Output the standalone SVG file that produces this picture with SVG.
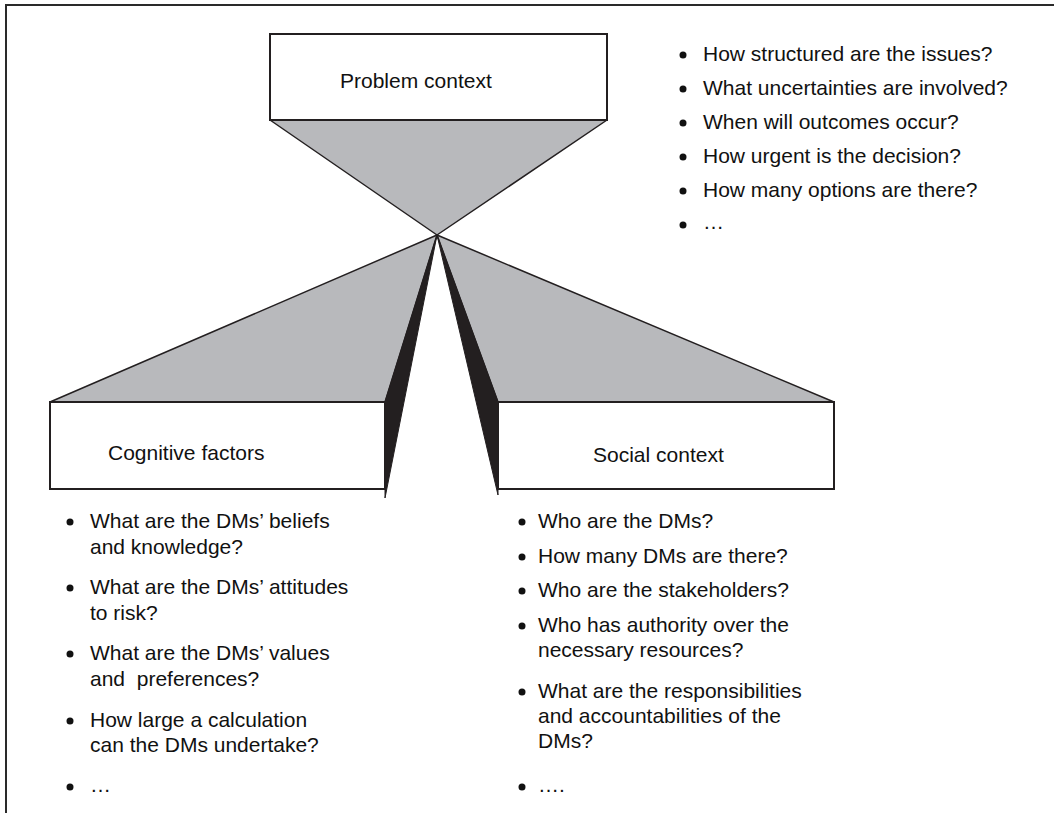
<svg xmlns="http://www.w3.org/2000/svg" width="1054" height="813" viewBox="0 0 1054 813">
<style>
text{font-family:"Liberation Sans",Arial,sans-serif;font-size:21px;fill:#111}
.box{fill:#fff;stroke:#231f20;stroke-width:2}
.tri{fill:#b8b9bc;stroke:#231f20;stroke-width:1.5;stroke-linejoin:round}
.wedge{fill:#231f20;stroke:#231f20;stroke-width:1}
.dot{fill:#111}
</style>
<rect width="1054" height="813" fill="#fff"/>
<path d="M6,813 V5 H1054" fill="none" stroke="#2a2a2a" stroke-width="2"/>
<g id="connectors">
<polygon class="tri" points="270,120 607,120 437,235"/>
<polygon class="tri" points="437,235 50,402 385,402"/>
<polygon class="tri" points="437,235 498,402 834,402"/>
<polygon class="wedge" points="437,235 385,402 385,498"/>
<polygon class="wedge" points="437,235 498,402 498,495"/>
</g>
<g id="problem-context">
<rect class="box" x="270" y="34" width="337" height="86"/>
<text x="340" y="88">Problem context</text>
</g>
<g id="cognitive-factors">
<rect class="box" x="50" y="402" width="335" height="87"/>
<text x="108" y="460">Cognitive factors</text>
</g>
<g id="social-context">
<rect class="box" x="498" y="402" width="336" height="87"/>
<text x="593" y="462">Social context</text>
</g>
<g id="problem-list">
<circle class="dot" cx="683" cy="55" r="3.5"/><text x="703" y="61">How structured are the issues?</text>
<circle class="dot" cx="683" cy="89" r="3.5"/><text x="703" y="95">What uncertainties are involved?</text>
<circle class="dot" cx="683" cy="123" r="3.5"/><text x="703" y="129">When will outcomes occur?</text>
<circle class="dot" cx="683" cy="157" r="3.5"/><text x="703" y="163">How urgent is the decision?</text>
<circle class="dot" cx="683" cy="191" r="3.5"/><text x="703" y="197">How many options are there?</text>
<circle class="dot" cx="683" cy="225" r="3.5"/><text x="703" y="229">…</text>
</g>
<g id="cognitive-list">
<circle class="dot" cx="70" cy="522" r="3.5"/><text x="90" y="528">What are the DMs’ beliefs</text>
<text x="90" y="554">and knowledge?</text>
<circle class="dot" cx="70" cy="588" r="3.5"/><text x="90" y="594">What are the DMs’ attitudes</text>
<text x="90" y="620">to risk?</text>
<circle class="dot" cx="70" cy="654" r="3.5"/><text x="90" y="660">What are the DMs’ values</text>
<text x="90" y="686" xml:space="preserve">and  preferences?</text>
<circle class="dot" cx="70" cy="721" r="3.5"/><text x="90" y="727">How large a calculation</text>
<text x="90" y="752">can the DMs undertake?</text>
<circle class="dot" cx="70" cy="787" r="3.5"/><text x="90" y="792">…</text>
</g>
<g id="social-list">
<circle class="dot" cx="522" cy="522" r="3.5"/><text x="538" y="528">Who are the DMs?</text>
<circle class="dot" cx="522" cy="557" r="3.5"/><text x="538" y="563">How many DMs are there?</text>
<circle class="dot" cx="522" cy="591" r="3.5"/><text x="538" y="597">Who are the stakeholders?</text>
<circle class="dot" cx="522" cy="626" r="3.5"/><text x="538" y="632">Who has authority over the</text>
<text x="538" y="657">necessary resources?</text>
<circle class="dot" cx="522" cy="692" r="3.5"/><text x="538" y="698">What are the responsibilities</text>
<text x="538" y="723">and accountabilities of the</text>
<text x="538" y="748">DMs?</text>
<circle class="dot" cx="522" cy="787" r="3.5"/><text x="538" y="792">….</text>
</g>
</svg>
